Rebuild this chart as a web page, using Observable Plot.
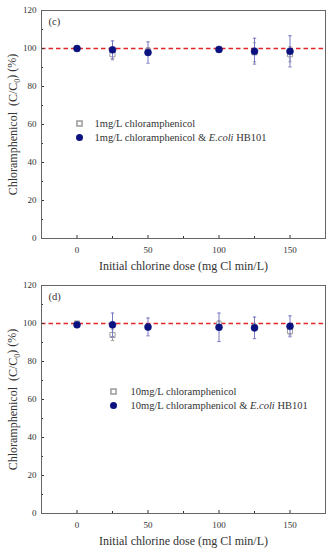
<!DOCTYPE html>
<html><head><meta charset="utf-8">
<script src="https://cdn.jsdelivr.net/npm/d3@7"></script>
<script src="https://cdn.jsdelivr.net/npm/@observablehq/plot@0.6"></script>
<style>body{margin:0;background:#fff;} #chart svg{display:block;font-family:'Liberation Serif','Times New Roman',serif;}</style>
</head><body><div id="chart"></div>
<script>
// ---- data ----
const doses = [0, 25, 50, 100, 125, 150];
const xTicks = [0, 50, 100, 150];
const xMinor = [25, 75, 125];
const yTicks = [0, 20, 40, 60, 80, 100, 120];
const yMinor = [10, 30, 50, 70, 90, 110];

// panel (c): 1 mg/L
const cSquare = [100, 97, 98.5, 99.5, 98, 97];
const cSquareErr = [0.5, 3, 2, 0.5, 5, 4];
const cCircle = [100, 99.3, 97.9, 99.5, 98.6, 98.5];
const cCircleErr = [0.5, 4.7, 5.6, 0.5, 6.8, 8.2];
const cLabels = ["1mg/L chloramphenicol", "1mg/L chloramphenicol & E.coli HB101"];

// panel (d): 10 mg/L
const dSquare = [100, 94, 98, 99.5, 98, 96];
const dSquareErr = [1, 3, 1.5, 2, 2, 2];
const dCircle = [99.3, 99.3, 98.2, 98, 97.7, 98.5];
const dCircleErr = [0.5, 6.2, 4.7, 7.5, 5.7, 5.5];
const dLabels = ["10mg/L chloramphenicol", "10mg/L chloramphenicol & E.coli HB101"];

const refLine = [100];
const xTitle = "Initial chlorine dose (mg Cl min/L)";
const yTitle = "Chloramphenicol  (C/C0) (%)";

// ---- styles ----
const FONT = "'Liberation Serif', 'Times New Roman', serif";
const navy = "#0b1280";
const errBlue = "#7878c4";
const gray = "#9a9a9a";

const cap = {draw(ctx, size) { const r = Math.sqrt(size / Math.PI); ctx.moveTo(-r, 0); ctx.lineTo(r, 0); }};

function rows(vals, errs) {
  return doses.map((d, i) => ({x: d, y: vals[i], lo: vals[i] - errs[i], hi: vals[i] + errs[i]}));
}

function panel(tag, sq, sqErr, ci, ciErr, labels, leg) {
  const S = rows(sq, sqErr), C = rows(ci, ciErr);
  const p = Plot.plot({
    width: 328, height: 275,
    marginLeft: 41, marginRight: 3, marginTop: 10, marginBottom: 37,
    style: {fontFamily: FONT, color: "#333", background: "white"},
    x: {domain: [-25, 175]},
    y: {domain: [0, 120]},
    marks: [
      Plot.ruleY(refLine, {stroke: "#e3262a", strokeWidth: 1.3, strokeDasharray: "4.5,3"}),
      // square series
      Plot.ruleX(S, {x: "x", y1: "lo", y2: "hi", stroke: gray, strokeWidth: 1}),
      Plot.dot(S, {x: "x", y: "lo", symbol: cap, r: 1.6, stroke: gray, strokeWidth: 1}),
      Plot.dot(S, {x: "x", y: "hi", symbol: cap, r: 1.6, stroke: gray, strokeWidth: 1}),
      Plot.dot(S, {x: "x", y: "y", symbol: "square", r: 2.9, stroke: gray, fill: "white", strokeWidth: 1}),
      // circle series
      Plot.ruleX(C, {x: "x", y1: "lo", y2: "hi", stroke: errBlue, strokeWidth: 1}),
      Plot.dot(C, {x: "x", y: "lo", symbol: cap, r: 1.7, stroke: errBlue, strokeWidth: 1}),
      Plot.dot(C, {x: "x", y: "hi", symbol: cap, r: 1.7, stroke: errBlue, strokeWidth: 1}),
      Plot.dot(C, {x: "x", y: "y", r: 3.5, fill: navy, stroke: navy, strokeWidth: 0.5}),
      // axes
      Plot.axisX({ticks: xTicks, tickSize: 0, tickPadding: 8, fontSize: 9, label: null, tickFormat: d => d}),
      Plot.axisX({ticks: xTicks, tickSize: -3, tickFormat: () => "", label: null}),
      Plot.axisX({ticks: xMinor, tickSize: -2, tickFormat: () => "", label: null}),
      Plot.axisY({ticks: yTicks, tickSize: 0, tickPadding: 5, fontSize: 9, label: null, tickFormat: d => d}),
      Plot.axisY({ticks: yTicks, tickSize: -3, tickFormat: () => "", label: null}),
      Plot.axisY({ticks: yMinor, tickSize: -2, tickFormat: () => "", label: null}),
      Plot.frame({stroke: "#666", strokeWidth: 1}),
      // titles
      Plot.text([xTitle], {frameAnchor: "bottom", dy: 28, text: d => d, fontSize: 12, fill: "#333", textAnchor: "middle", lineAnchor: "middle"}),
      Plot.text([yTitle], {frameAnchor: "left", dx: -28, rotate: -90, text: d => d, fontSize: 12, fill: "#333", textAnchor: "middle", lineAnchor: "middle"}),
      Plot.text([tag], {frameAnchor: "top-left", dx: 7, dy: 11, text: d => d, fontSize: 10.5, fill: "#333", textAnchor: "start", lineAnchor: "middle"}),
      // legend
      Plot.dot([labels[0]], {frameAnchor: "top-left", dx: leg.x, dy: leg.y, symbol: "square", r: 2.9, stroke: gray, fill: "white"}),
      Plot.dot([labels[1]], {frameAnchor: "top-left", dx: leg.x, dy: leg.y + 14, r: 3.5, fill: navy}),
      Plot.text([labels[0]], {frameAnchor: "top-left", dx: leg.t, dy: leg.y, text: d => d, fontSize: 10.5, fill: "#333", textAnchor: "start", lineAnchor: "middle"}),
      Plot.text([labels[1]], {frameAnchor: "top-left", dx: leg.t, dy: leg.y + 14, text: d => d, fontSize: 10.5, fill: "#333", textAnchor: "start", lineAnchor: "middle"})
    ]
  });
  // rich text fix-ups
  d3.select(p).selectAll("text").each(function() {
    const t = this.textContent;
    if (t.includes("E.coli")) {
      const [a, b] = t.split("E.coli");
      const s = d3.select(this); s.text("");
      s.append("tspan").text(a);
      s.append("tspan").attr("font-style", "italic").text("E.coli");
      s.append("tspan").text(b);
    } else if (t === yTitle) {
      const s = d3.select(this); s.text("");
      s.append("tspan").text("Chloramphenicol\u00a0\u00a0(C/C");
      s.append("tspan").attr("font-size", 8).attr("dy", "0.35em").text("0");
      s.append("tspan").attr("dy", "-0.35em").text(") (%)");
    }
  });
  return p;
}

const root = document.getElementById("chart");
root.append(panel("(c)", cSquare, cSquareErr, cCircle, cCircleErr, cLabels, {x: 38, y: 113, t: 53}));
root.append(panel("(d)", dSquare, dSquareErr, dCircle, dCircleErr, dLabels, {x: 72, y: 106, t: 89}));
</script></body></html>
